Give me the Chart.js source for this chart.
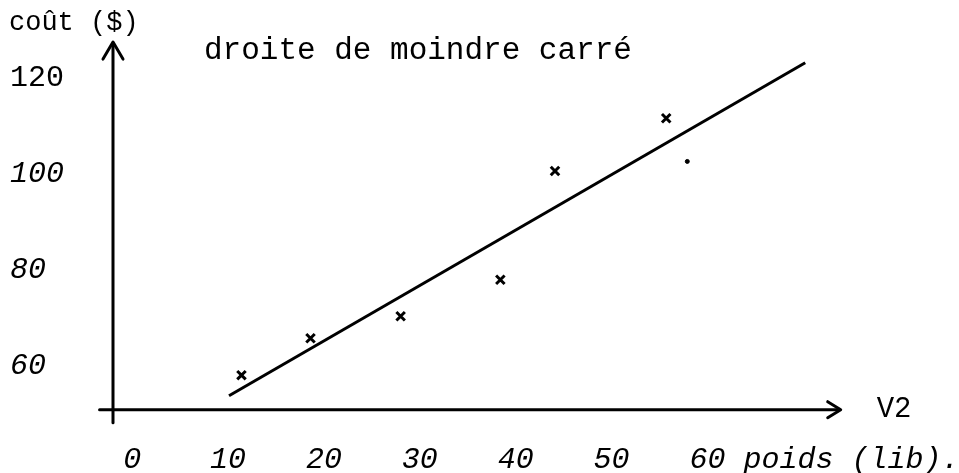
<!DOCTYPE html>
<html lang="fr">
<head>
<meta charset="utf-8">
<title>droite de moindre carré</title>
<script src="https://cdn.jsdelivr.net/npm/chart.js@4/dist/chart.umd.min.js"></script>
<style>
  html, body { margin: 0; padding: 0; background: #fff; }
  canvas { display: block; }
</style>
</head>
<body>
<canvas id="lsqChart" width="959" height="473"></canvas>
<script>
// poids (lib) / coût ($)
const weights = [11.4, 18.6, 28.0, 38.4, 44.1, 55.7];
const costs = [58.1, 65.8, 70.4, 78.0, 100.7, 111.7];

// lone dot next to the last cross
const strayWeights = [57.9];
const strayCosts = [102.7];

// ends of the least-squares line
const fitWeights = [10.1, 70.2];
const fitCosts = [53.8, 123.3];

const xTicks = [0, 10, 20, 30, 40, 50, 60];
const yTicks = [60, 80, 100, 120];

const yTitle = 'coût ($)';
const xTitle = 'poids (lib).';
const xEndLabel = 'V2';
const lineLabel = 'droite de moindre carré';

// where the hand-drawn axes cross, and how far they run (data units)
const axisCross = { x: -2, y: 50.9 };
const xAxisRun = [-3.4, 73.9];
const yAxisRun = [48.2, 127.6];

const FONT = "'Liberation Mono', 'Courier New', monospace";

function toPoints(xs, ys) {
  return xs.map((x, i) => ({ x: x, y: ys[i] }));
}

// axes with open arrow heads + loose labels
const sketchAxes = {
  id: 'sketchAxes',
  beforeDatasetsDraw(chart) {
    const { ctx, scales: { x, y } } = chart;
    const x0 = x.getPixelForValue(axisCross.x);
    const y0 = y.getPixelForValue(axisCross.y);
    const xEnd = x.getPixelForValue(xAxisRun[1]);
    const yTop = y.getPixelForValue(yAxisRun[1]);

    ctx.save();
    ctx.strokeStyle = '#000';
    ctx.lineWidth = 3;
    ctx.lineCap = 'round';
    ctx.lineJoin = 'round';

    // horizontal axis
    ctx.beginPath();
    ctx.moveTo(x.getPixelForValue(xAxisRun[0]), y0);
    ctx.lineTo(xEnd - 4, y0);
    ctx.stroke();
    ctx.beginPath();
    ctx.moveTo(xEnd - 13, y0 - 8);
    ctx.lineTo(xEnd, y0);
    ctx.lineTo(xEnd - 13, y0 + 8);
    ctx.stroke();

    // vertical axis
    ctx.beginPath();
    ctx.moveTo(x0, y.getPixelForValue(yAxisRun[0]));
    ctx.lineTo(x0, yTop + 2);
    ctx.stroke();
    ctx.beginPath();
    ctx.moveTo(x0 - 10, yTop + 17);
    ctx.lineTo(x0, yTop);
    ctx.lineTo(x0 + 10, yTop + 17);
    ctx.stroke();

    ctx.fillStyle = '#000';
    ctx.textBaseline = 'middle';
    ctx.textAlign = 'left';

    ctx.font = '27px ' + FONT;
    ctx.fillText(yTitle, 9, 23);

    ctx.font = '31px ' + FONT;
    ctx.fillText(lineLabel, 204, 51);

    ctx.font = '29px ' + FONT;
    ctx.fillText(xEndLabel, xEnd + 36, y0);

    // axis title follows the last tick label on the same line
    ctx.font = 'italic 30px ' + FONT;
    const last = xTicks[xTicks.length - 1];
    const lastW = ctx.measureText(String(last)).width;
    const spaceW = ctx.measureText(' ').width;
    const tickY = x.top + 28 + 18;
    ctx.fillText(xTitle, x.getPixelForValue(last) + lastW / 2 + spaceW, tickY);

    ctx.restore();
  }
};

new Chart(document.getElementById('lsqChart').getContext('2d'), {
  type: 'scatter',
  data: {
    datasets: [
      {
        label: 'mesures',
        data: toPoints(weights, costs),
        pointStyle: 'crossRot',
        pointRadius: 6,
        borderColor: '#000',
        borderWidth: 3
      },
      {
        label: 'tache',
        data: toPoints(strayWeights, strayCosts),
        pointStyle: 'circle',
        pointRadius: 2,
        backgroundColor: '#000',
        borderColor: '#000',
        borderWidth: 1
      },
      {
        type: 'line',
        label: lineLabel,
        data: toPoints(fitWeights, fitCosts),
        borderColor: '#000',
        borderWidth: 3,
        pointRadius: 0,
        fill: false,
        tension: 0
      }
    ]
  },
  options: {
    responsive: false,
    devicePixelRatio: 1,
    animation: false,
    layout: { padding: { left: 10, right: 9, top: 19, bottom: 0 } },
    plugins: {
      legend: { display: false },
      tooltip: { enabled: false }
    },
    scales: {
      x: {
        type: 'linear',
        min: -2,
        max: 85.3,
        grid: { display: false, drawTicks: false },
        border: { display: false },
        afterBuildTicks: (scale) => { scale.ticks = xTicks.map(v => ({ value: v })); },
        afterFit: (scale) => { scale.height = 59; },
        ticks: {
          autoSkip: false,
          maxRotation: 0,
          padding: 28,
          color: '#000',
          font: { family: FONT, size: 30, style: 'italic' }
        }
      },
      y: {
        type: 'linear',
        min: 50,
        max: 132,
        grid: { display: false, drawTicks: false },
        border: { display: false },
        afterBuildTicks: (scale) => { scale.ticks = yTicks.map(v => ({ value: v })); },
        afterFit: (scale) => { scale.width = 103; },
        ticks: {
          autoSkip: false,
          crossAlign: 'far',
          color: '#000',
          font: (ctx) => ({
            family: FONT,
            size: 30,
            style: ctx.tick && ctx.tick.value === 120 ? 'normal' : 'italic'
          })
        }
      }
    }
  },
  plugins: [sketchAxes]
});
</script>
</body>
</html>
